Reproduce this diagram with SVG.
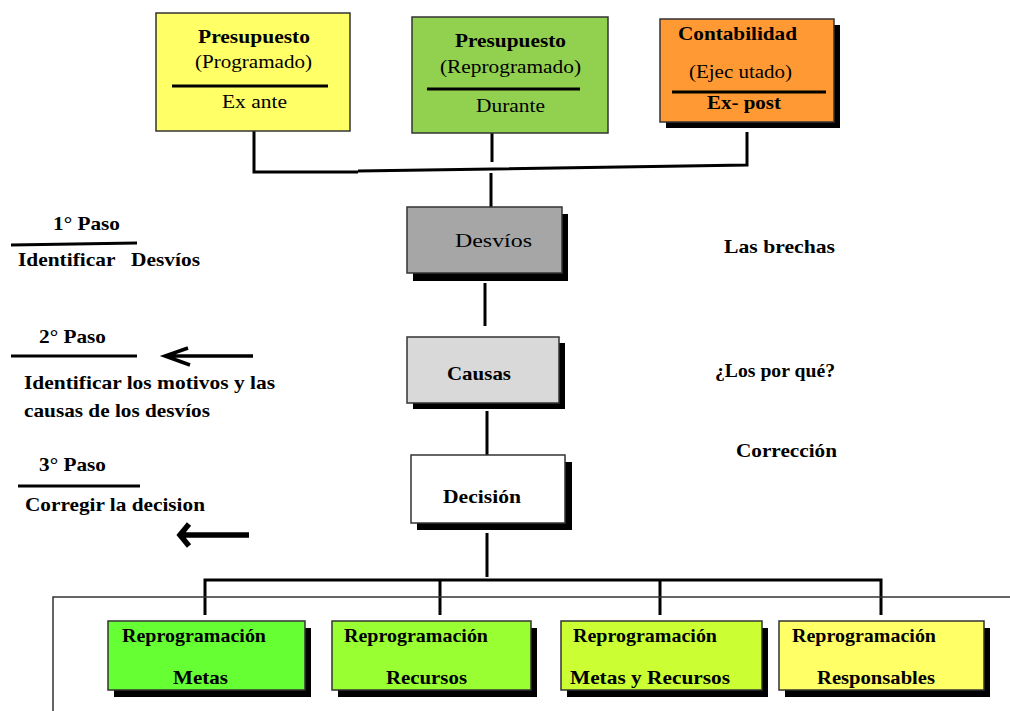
<svg xmlns="http://www.w3.org/2000/svg" width="1010" height="711" viewBox="0 0 1010 711">
<style>
text{font-family:"Liberation Serif","Times New Roman",serif;fill:#000}
.b{font-weight:bold;font-size:19px}
.n{font-size:19px}
.box{stroke:#333;stroke-width:1.5}
.sh{fill:#000}
.c{stroke:#000;stroke-width:3;fill:none}
.t{stroke:#000;stroke-width:3}
</style>
<rect width="1010" height="711" fill="#fff"/>
<g id="connectors">
<path class="c" d="M254 131V172H358"/>
<path class="c" d="M358 171L747 165V132"/>
<path class="c" d="M492 133V162M491 173V207"/>
<path class="c" d="M485 283V326"/>
<path class="c" d="M487 411V455"/>
<path class="c" d="M487 533V577"/>
<path class="c" d="M205 615V580H881V615M440 580V615M660 580V615"/>
<path d="M53 711V597H1010" fill="none" stroke="#333" stroke-width="1.5"/>
</g>
<g id="frame-note"/>
<g id="presupuesto-programado">
<rect class="box" x="156" y="13" width="194" height="118" fill="#FFFF66"/>
<text class="b" x="198" y="43" textLength="112" lengthAdjust="spacingAndGlyphs">Presupuesto</text>
<text class="n" x="195" y="68" textLength="117" lengthAdjust="spacingAndGlyphs">(Programado)</text>
<line class="t" x1="172" y1="86" x2="328" y2="86"/>
<text class="n" x="222" y="108" textLength="65" lengthAdjust="spacingAndGlyphs">Ex ante</text>
</g>
<g id="presupuesto-reprogramado">
<rect class="box" x="412" y="17" width="196" height="116" fill="#92D050"/>
<text class="b" x="455" y="47" textLength="111" lengthAdjust="spacingAndGlyphs">Presupuesto</text>
<text class="n" x="440" y="73" textLength="141" lengthAdjust="spacingAndGlyphs">(Reprogramado)</text>
<line class="t" x1="427" y1="89" x2="580" y2="89"/>
<text class="n" x="476" y="112" textLength="69" lengthAdjust="spacingAndGlyphs">Durante</text>
</g>
<g id="contabilidad">
<rect class="sh" x="666" y="25" width="174" height="103"/>
<rect class="box" x="660" y="19" width="174" height="103" fill="#FF9933"/>
<text class="b" x="678" y="40" textLength="119" lengthAdjust="spacingAndGlyphs">Contabilidad</text>
<text class="n" x="689" y="78" textLength="103" lengthAdjust="spacingAndGlyphs">(Ejec utado)</text>
<line class="t" x1="672" y1="92" x2="826" y2="92"/>
<text class="b" x="707" y="109" textLength="74" lengthAdjust="spacingAndGlyphs">Ex- post</text>
</g>
<g id="desvios">
<rect class="sh" x="413" y="214" width="155" height="67"/>
<rect class="box" x="407" y="207" width="155" height="66" fill="#A6A6A6"/>
<text class="n" x="455" y="247" font-size="21" textLength="77" lengthAdjust="spacingAndGlyphs">Desvíos</text>
</g>
<g id="causas">
<rect class="sh" x="413" y="343" width="152" height="66"/>
<rect class="box" x="407" y="337" width="152" height="66" fill="#D9D9D9"/>
<text class="b" x="447" y="380" textLength="64" lengthAdjust="spacingAndGlyphs">Causas</text>
</g>
<g id="decision">
<rect class="sh" x="417" y="462" width="155" height="68"/>
<rect class="box" x="411" y="455" width="154" height="68" fill="#FFFFFF"/>
<text class="b" x="443" y="503" textLength="78" lengthAdjust="spacingAndGlyphs">Decisión</text>
</g>
<g id="reprog-metas">
<rect class="sh" x="114" y="628" width="197" height="69"/>
<rect class="box" x="108" y="621" width="197" height="69" fill="#66FF33"/>
<text class="b" x="122" y="642" textLength="144" lengthAdjust="spacingAndGlyphs">Reprogramación</text>
<text class="b" x="173" y="684" textLength="55" lengthAdjust="spacingAndGlyphs">Metas</text>
</g>
<g id="reprog-recursos">
<rect class="sh" x="338" y="628" width="199" height="69"/>
<rect class="box" x="332" y="621" width="199" height="69" fill="#99FF33"/>
<text class="b" x="344" y="642" textLength="144" lengthAdjust="spacingAndGlyphs">Reprogramación</text>
<text class="b" x="386" y="684" textLength="81" lengthAdjust="spacingAndGlyphs">Recursos</text>
</g>
<g id="reprog-metas-recursos">
<rect class="sh" x="567" y="628" width="201" height="69"/>
<rect class="box" x="561" y="621" width="201" height="69" fill="#CCFF33"/>
<text class="b" x="573" y="642" textLength="144" lengthAdjust="spacingAndGlyphs">Reprogramación</text>
<text class="b" x="570" y="684" textLength="160" lengthAdjust="spacingAndGlyphs">Metas y Recursos</text>
</g>
<g id="reprog-responsables">
<rect class="sh" x="785" y="628" width="205" height="69"/>
<rect class="box" x="779" y="621" width="205" height="69" fill="#FFFF66"/>
<text class="b" x="792" y="642" textLength="144" lengthAdjust="spacingAndGlyphs">Reprogramación</text>
<text class="b" x="817" y="684" textLength="118" lengthAdjust="spacingAndGlyphs">Responsables</text>
</g>
<g id="paso1">
<text class="b" x="53" y="230" textLength="67" lengthAdjust="spacingAndGlyphs">1° Paso</text>
<line class="t" x1="11" y1="245" x2="137" y2="243"/>
<text class="b" x="18" y="266" textLength="182" lengthAdjust="spacingAndGlyphs" xml:space="preserve">Identificar   Desvíos</text>
</g>
<g id="paso2">
<text class="b" x="39" y="343" textLength="67" lengthAdjust="spacingAndGlyphs">2° Paso</text>
<line class="t" x1="11" y1="356" x2="137" y2="356"/>
<path d="M253 356H166M188 348L165 356L190 365" fill="none" stroke="#000" stroke-width="3.5"/>
<text class="b" x="24" y="389" textLength="251" lengthAdjust="spacingAndGlyphs">Identificar los motivos y las</text>
<text class="b" x="24" y="417" textLength="186" lengthAdjust="spacingAndGlyphs">causas de los desvíos</text>
</g>
<g id="paso3">
<text class="b" x="39" y="471" textLength="67" lengthAdjust="spacingAndGlyphs">3° Paso</text>
<line class="t" x1="18" y1="486" x2="140" y2="486"/>
<text class="b" x="25" y="511" textLength="180" lengthAdjust="spacingAndGlyphs">Corregir la decision</text>
<path d="M249 535H182M189 524L180 535L189 546" fill="none" stroke="#000" stroke-width="5.5"/>
</g>
<g id="labels-right">
<text class="b" x="724" y="253" textLength="111" lengthAdjust="spacingAndGlyphs">Las brechas</text>
<text class="b" x="715" y="377" textLength="120" lengthAdjust="spacingAndGlyphs">¿Los por qué?</text>
<text class="b" x="736" y="457" textLength="101" lengthAdjust="spacingAndGlyphs">Corrección</text>
</g>
</svg>
